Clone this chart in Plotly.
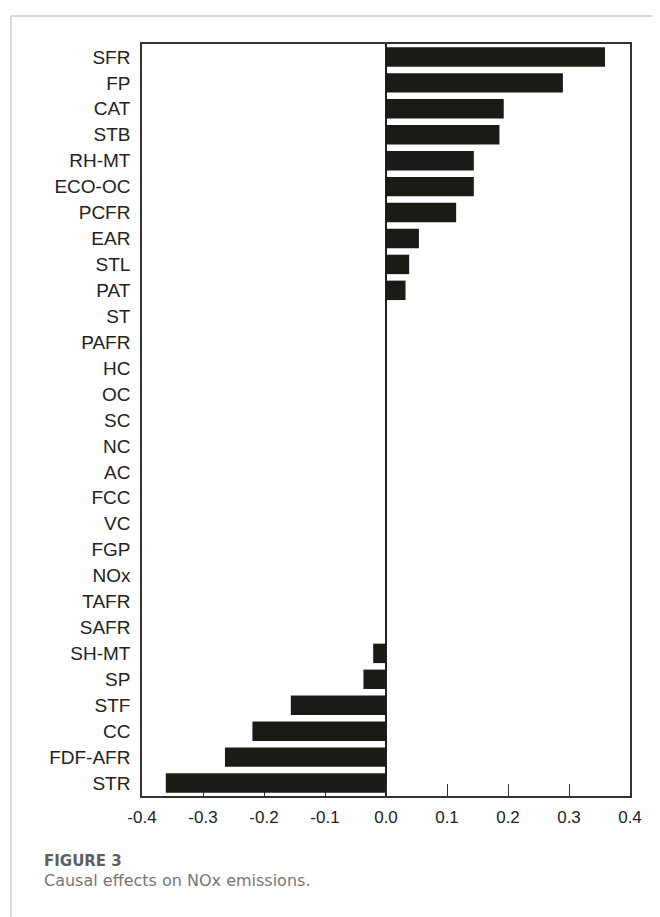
import plotly.graph_objects as go

categories = ["SFR", "FP", "CAT", "STB", "RH-MT", "ECO-OC", "PCFR", "EAR", "STL", "PAT",
              "ST", "PAFR", "HC", "OC", "SC", "NC", "AC", "FCC", "VC", "FGP", "NOx",
              "TAFR", "SAFR", "SH-MT", "SP", "STF", "CC", "FDF-AFR", "STR"]
effects = [0.359, 0.290, 0.193, 0.186, 0.144, 0.144, 0.115, 0.054, 0.038, 0.032,
           0.0, 0.0, 0.0, 0.0, 0.0, 0.0, 0.0, 0.0, 0.0, 0.0, 0.0,
           0.0, 0.0, -0.021, -0.037, -0.156, -0.219, -0.264, -0.361]
x_ticks = [-0.4, -0.3, -0.2, -0.1, 0.0, 0.1, 0.2, 0.3, 0.4]
x_tick_labels = ["-0.4", "-0.3", "-0.2", "-0.1", "0.0", "0.1", "0.2", "0.3", "0.4"]

# page body has an 8px margin; figure is sized to fit the window
OFF = 8
W, H = 660 - OFF, 917 - OFF
L, T = 142 - OFF, 44 - OFF
pw, ph = 488, 752
R, B = W - L - pw, H - T - ph

def px_x(p):
    return (p - OFF - L) / pw

def px_y(p):
    return (T + ph - (p - OFF)) / ph

fig = go.Figure(go.Bar(
    x=effects, y=categories, orientation="h",
    marker=dict(color="#1b1b16", line=dict(width=0)),
    hoverinfo="x+y",
))

fig.update_layout(
    width=W, height=H,
    margin=dict(l=L, r=R, t=T, b=B),
    paper_bgcolor="white", plot_bgcolor="white",
    bargap=0.25,
    showlegend=False,
    xaxis=dict(
        range=[-0.4, 0.4], tickvals=x_ticks, ticktext=x_tick_labels,
        ticks="inside", ticklen=12, tickwidth=1, tickcolor="#333",
        showline=True, mirror=True, linecolor="#333", linewidth=1.5,
        showgrid=False, zeroline=True, zerolinecolor="#222", zerolinewidth=2,
        tickfont=dict(family="Liberation Sans, Arial", size=17, color="#222"),
        ticklabelstandoff=5,
        layer="below traces",
    ),
    yaxis=dict(
        categoryorder="array", categoryarray=categories, autorange="reversed",
        showline=True, mirror=True, linecolor="#333", linewidth=1.5,
        ticks="", showgrid=False, zeroline=False,
        tickfont=dict(family="Liberation Sans, Arial", size=19, color="#222"),
        ticklabelstandoff=6,
    ),
    shapes=[
        dict(type="line", xref="paper", yref="paper",
             x0=px_x(11), x1=px_x(11), y0=px_y(16), y1=px_y(930),
             line=dict(color="#d8d8d8", width=2)),
        dict(type="line", xref="paper", yref="paper",
             x0=px_x(11), x1=px_x(680), y0=px_y(16), y1=px_y(16),
             line=dict(color="#d8d8d8", width=2)),
    ],
    annotations=[
        dict(text="FIGURE 3", xref="paper", yref="paper", x=px_x(43), y=px_y(871),
             xanchor="left", yanchor="bottom", showarrow=False, borderpad=0,
             font=dict(family="DejaVu Sans", size=15, color="#5e5e5e", weight=700)),
        dict(text="Causal effects on NOx emissions.", xref="paper", yref="paper",
             x=px_x(43), y=px_y(870), xanchor="left", yanchor="top", showarrow=False,
             borderpad=0,
             font=dict(family="DejaVu Sans", size=16, color="#767676", weight=400)),
    ],
)

fig.write_html("out.html")
